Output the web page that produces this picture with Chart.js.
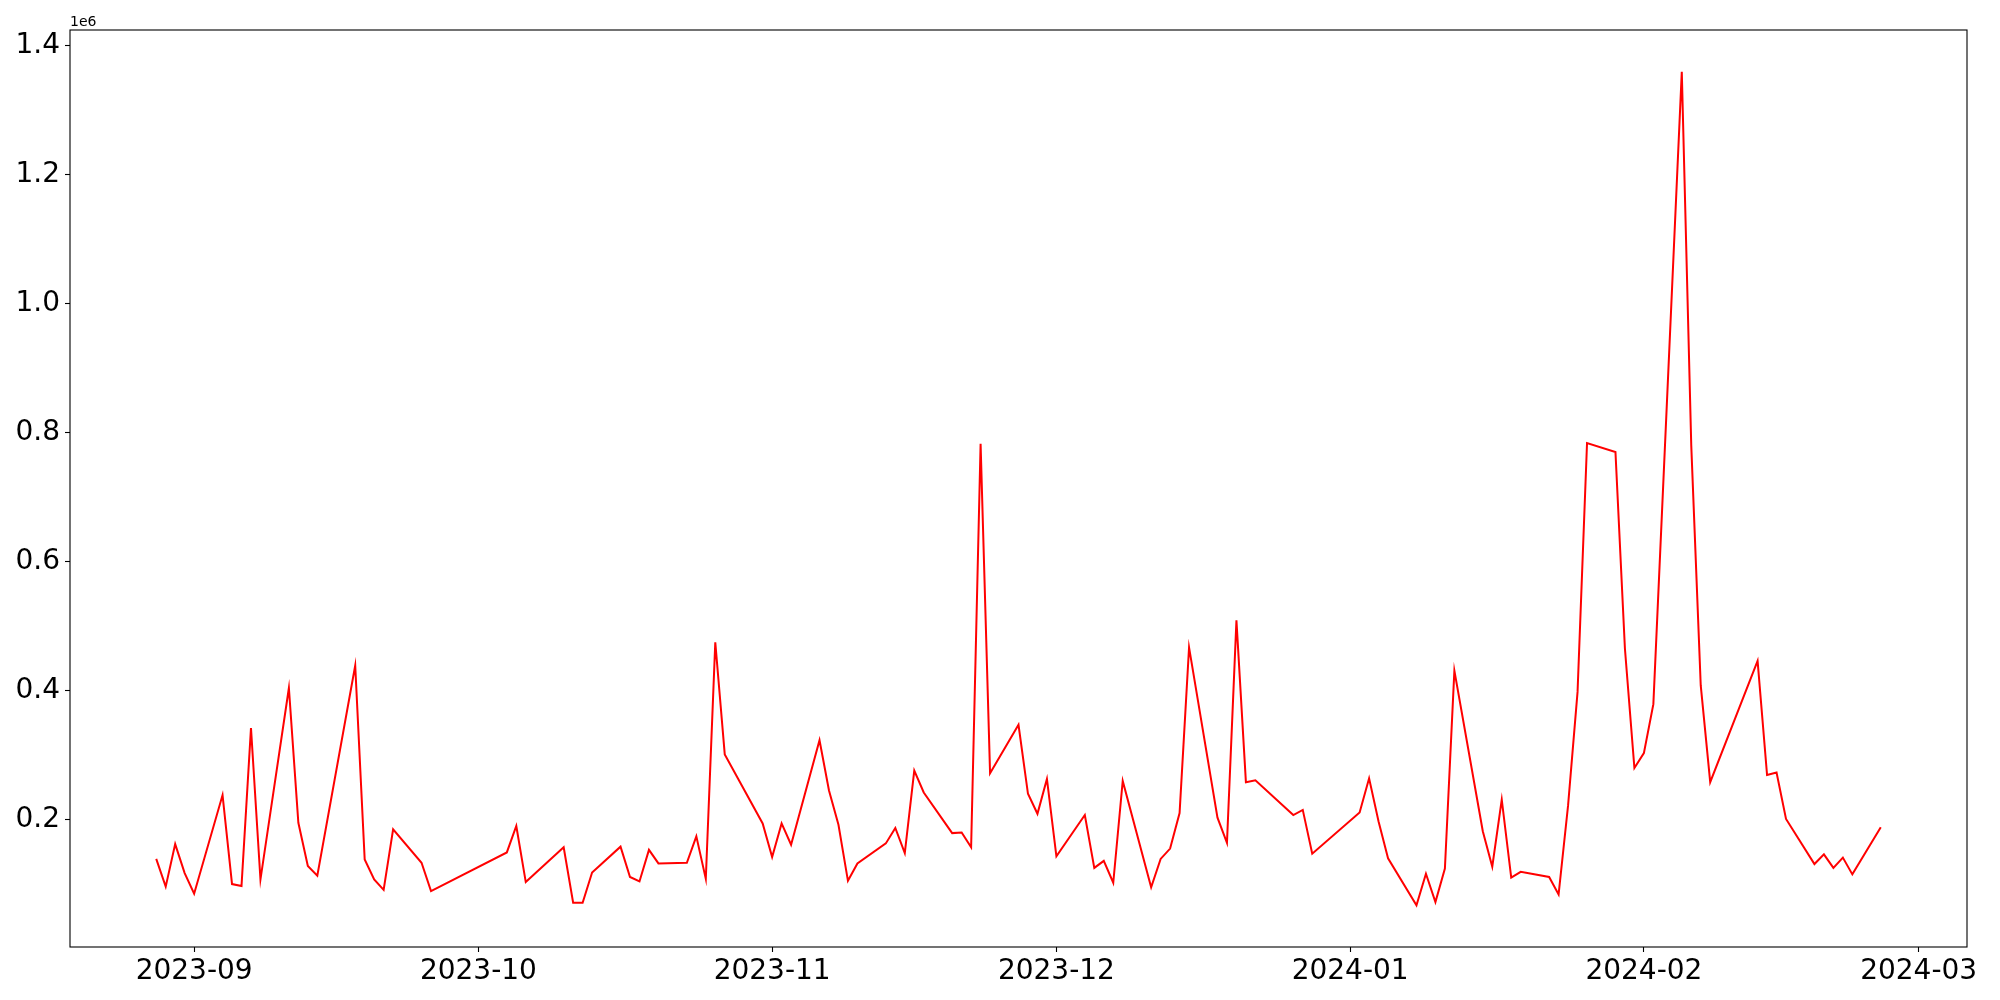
<!DOCTYPE html>
<html>
<head>
<meta charset="utf-8">
<title>Daily series</title>
<script src="https://cdn.jsdelivr.net/npm/chart.js@4/dist/chart.umd.min.js"></script>
<style>
  html, body { margin: 0; padding: 0; background: #fff; }
  #wrap { width: 2000px; height: 1000px; }
</style>
</head>
<body>
<div id="wrap"><canvas id="lineChart" width="2000" height="1000"></canvas></div>
<script>
// dates (weekdays, some missing)
const dates = [
  '2023-08-28', '2023-08-29', '2023-08-30', '2023-08-31', '2023-09-01',
  '2023-09-04', '2023-09-05', '2023-09-06', '2023-09-07', '2023-09-08',
  '2023-09-11', '2023-09-12', '2023-09-13', '2023-09-14',
  '2023-09-18', '2023-09-19', '2023-09-20', '2023-09-21', '2023-09-22',
  '2023-09-25', '2023-09-26',
  '2023-10-04', '2023-10-05', '2023-10-06',
  '2023-10-10', '2023-10-11', '2023-10-12', '2023-10-13',
  '2023-10-16', '2023-10-17', '2023-10-18', '2023-10-19', '2023-10-20',
  '2023-10-23', '2023-10-24', '2023-10-25', '2023-10-26', '2023-10-27',
  '2023-10-31', '2023-11-01', '2023-11-02', '2023-11-03',
  '2023-11-06', '2023-11-07', '2023-11-08', '2023-11-09', '2023-11-10',
  '2023-11-13', '2023-11-14', '2023-11-15', '2023-11-16', '2023-11-17',
  '2023-11-20', '2023-11-21', '2023-11-22', '2023-11-23', '2023-11-24',
  '2023-11-27', '2023-11-28', '2023-11-29', '2023-11-30', '2023-12-01',
  '2023-12-04', '2023-12-05', '2023-12-06', '2023-12-07', '2023-12-08',
  '2023-12-11', '2023-12-12', '2023-12-13', '2023-12-14', '2023-12-15',
  '2023-12-18', '2023-12-19', '2023-12-20', '2023-12-21', '2023-12-22',
  '2023-12-26', '2023-12-27', '2023-12-28',
  '2024-01-02', '2024-01-03', '2024-01-04', '2024-01-05',
  '2024-01-08', '2024-01-09', '2024-01-10', '2024-01-11', '2024-01-12',
  '2024-01-15', '2024-01-16', '2024-01-17', '2024-01-18', '2024-01-19',
  '2024-01-22', '2024-01-23', '2024-01-24', '2024-01-25', '2024-01-26',
  '2024-01-29', '2024-01-30', '2024-01-31', '2024-02-01', '2024-02-02',
  '2024-02-05', '2024-02-06', '2024-02-07', '2024-02-08',
  '2024-02-13', '2024-02-14', '2024-02-15', '2024-02-16',
  '2024-02-19', '2024-02-20', '2024-02-21', '2024-02-22', '2024-02-23',
  '2024-02-26'
]

const values = [
  139000, 96000, 162000, 117000, 85000,
  238000, 100000, 97000, 342000, 107000,
  404000, 195000, 128000, 113000,
  439000, 138000, 107000, 91000, 185000,
  133000, 89000,
  149000, 190000, 103000,
  157000, 71000, 71000, 118000,
  158000, 111000, 104000, 153000, 132000,
  133000, 174000, 108000, 475000, 301000,
  194000, 142000, 194000, 161000,
  323000, 245000, 192000, 105000, 132000,
  163000, 187000, 148000, 276000, 242000,
  179000, 180000, 157000, 783000, 272000,
  347000, 240000, 209000, 263000, 143000,
  207000, 125000, 136000, 102000, 260000,
  95000, 139000, 155000, 210000, 467000,
  203000, 164000, 509000, 258000, 261000,
  207000, 215000, 147000,
  211000, 264000, 197000, 140000,
  67000, 116000, 72000, 124000, 431000,
  182000, 127000, 231000, 110000, 119000,
  111000, 84000, 222000, 398000, 784000,
  770000, 465000, 280000, 303000, 379000,
  1360000, 780000, 408000, 258000,
  446000, 269000, 273000, 201000,
  131000, 146000, 125000, 141000, 115000,
  188000
]

const xTickDates = ['2023-09-01', '2023-10-01', '2023-11-01', '2023-12-01', '2024-01-01', '2024-02-01', '2024-03-01']
const yTickValues = [200000, 400000, 600000, 800000, 1000000, 1200000, 1400000]

const DAY = 86400000
const toDay = s => Date.parse(s + 'T00:00:00Z') / DAY

const points = dates.map((d, i) => ({ x: toDay(d), y: values[i] }))

// 5% margin on both axes, like the original plot
const xFirst = toDay(dates[0])
const xLast = toDay(dates[dates.length - 1])
const xPad = (xLast - xFirst) * 0.05
const yLo = Math.min(...values)
const yHi = Math.max(...values)
const yPad = (yHi - yLo) * 0.05

const FONT = "'DejaVu Sans', sans-serif"

// frame around the plot area plus the "1e6" offset text
const framePlugin = {
  id: 'frame',
  afterDraw(chart) {
    const { ctx, chartArea } = chart
    ctx.save()
    ctx.strokeStyle = '#000'
    ctx.lineWidth = 1.1
    ctx.strokeRect(chartArea.left, chartArea.top, chartArea.right - chartArea.left, chartArea.bottom - chartArea.top)
    ctx.fillStyle = '#000'
    ctx.font = '14px ' + FONT
    ctx.textAlign = 'left'
    ctx.textBaseline = 'alphabetic'
    ctx.fillText('1e6', chartArea.left, chartArea.top - 4)
    ctx.restore()
  }
}

const ctx = document.getElementById('lineChart').getContext('2d')
new Chart(ctx, {
  type: 'line',
  data: {
    datasets: [{
      data: points,
      borderColor: '#ff0000',
      borderWidth: 2,
      pointRadius: 0,
      tension: 0,
      fill: false
    }]
  },
  options: {
    responsive: false,
    animation: false,
    devicePixelRatio: 1,
    layout: { padding: { top: 30, right: 33, left: 0, bottom: 0 } },
    plugins: {
      legend: { display: false },
      tooltip: { enabled: false }
    },
    scales: {
      x: {
        type: 'linear',
        min: xFirst - xPad,
        max: xLast + xPad,
        afterBuildTicks: scale => {
          scale.ticks = xTickDates.map(d => ({ value: toDay(d) }))
        },
        afterFit: scale => { scale.height = 53 },
        grid: { drawOnChartArea: false, drawTicks: true, tickLength: 5, tickColor: '#000', tickWidth: 1.1 },
        border: { display: false },
        ticks: {
          color: '#000',
          font: { family: FONT, size: 28 },
          padding: 3,
          maxRotation: 0,
          autoSkip: false,
          callback: v => new Date(v * DAY).toISOString().slice(0, 7)
        }
      },
      y: {
        type: 'linear',
        min: yLo - yPad,
        max: yHi + yPad,
        afterBuildTicks: scale => {
          scale.ticks = yTickValues.map(v => ({ value: v }))
        },
        afterFit: scale => { scale.width = 70 },
        grid: { drawOnChartArea: false, drawTicks: true, tickLength: 5, tickColor: '#000', tickWidth: 1.1 },
        border: { display: false },
        ticks: {
          color: '#000',
          font: { family: FONT, size: 28 },
          padding: 5,
          autoSkip: false,
          callback: v => (v / 1e6).toFixed(1)
        }
      }
    }
  },
  plugins: [framePlugin]
})
</script>
</body>
</html>
